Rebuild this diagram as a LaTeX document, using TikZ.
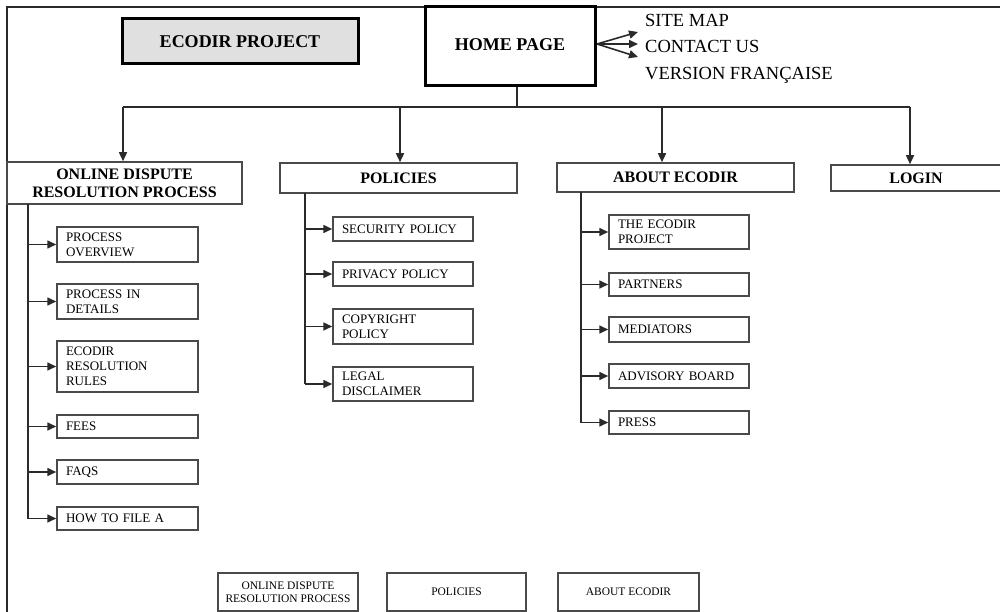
\documentclass[tikz,border=0pt]{standalone}
\usepackage{fontspec}
\setmainfont{Liberation Serif}
\usetikzlibrary{arrows.meta}
\definecolor{ln}{HTML}{2A2A2A}
\definecolor{bx}{HTML}{4A4A4A}
\definecolor{gfill}{HTML}{E0E0E0}
\begin{document}
\begin{tikzpicture}[x=1pt,y=-1pt,
  conn/.style={draw=ln,line width=1.6pt},
  arr/.style={conn,-{Triangle[length=9pt,width=8pt]}},
  bigbox/.style={draw=black,line width=3pt,align=center,inner sep=0pt,font=\fontsize{18}{20}\selectfont\bfseries},
  head/.style={draw=bx,line width=1.6pt,align=center,inner sep=0pt,font=\fontsize{16}{18}\selectfont\bfseries},
  sub/.style={draw=bx,line width=1.5pt,align=left,inner xsep=9pt,inner ysep=0pt,font=\fontsize{13}{15}\selectfont},
  bot/.style={draw=bx,line width=1.5pt,align=center,inner sep=0pt,font=\fontsize{11.5}{13.5}\selectfont},
  link/.style={anchor=base west,inner sep=0pt,font=\fontsize{18.5}{20}\selectfont}]
\useasboundingbox (0,0) rectangle (1000,612);
% frame
\draw[draw=ln,line width=2pt] (7,612) -- (7,7) -- (1000,7);
% top
\node[bigbox,fill=gfill,minimum width=236pt,minimum height=45pt] (eco) at (240,41.5) {ECODIR PROJECT};
\node[bigbox,fill=white,minimum width=170pt,minimum height=79pt] (home) at (510,46.5) {\raisebox{4pt}{HOME PAGE}};
\node[link] (sm) at (645,27) {SITE MAP};
\node[link] (cu) at (645,53) {CONTACT US};
\node[link] (vf) at (645,80) {VERSION FRANÇAISE};
\coordinate (hs) at (597,44);
\coordinate (t1) at (638,32);
\coordinate (t2) at (638,44);
\coordinate (t3) at (638,57);
\draw[arr] (hs) -- (t1);
\draw[arr] (hs) -- (t2);
\draw[arr] (hs) -- (t3);
% headers
\node[head,minimum width=235pt,minimum height=42pt] (odr) at (124.5,183) {ONLINE DISPUTE\\RESOLUTION PROCESS};
\node[head,minimum width=237pt,minimum height=30pt] (pol) at (398.5,178) {POLICIES};
\node[head,minimum width=237pt,minimum height=29pt] (abt) at (675.5,177.5) {ABOUT ECODIR};
\node[head,minimum width=170pt,minimum height=26pt] (login) at (916,178) {LOGIN};
% branches
\coordinate (hj) at (517,107);
\coordinate (b1) at (123,107);
\coordinate (b2) at (400,107);
\coordinate (b3) at (662,107);
\coordinate (b4) at (910,107);
\draw[conn] (home.south -| hj) -- (hj);
\draw[conn] (b1) -- (b4);
\draw[arr] (b1) -- (b1 |- odr.north);
\draw[arr] (b2) -- (b2 |- pol.north);
\draw[arr] (b3) -- (b3 |- abt.north);
\draw[arr] (b4) -- (b4 |- login.north);
% ODR sub
\node[sub,text width=123pt,minimum height=35pt] (po) at (127.5,244.5) {PROCESS\\OVERVIEW};
\node[sub,text width=123pt,minimum height=35pt] (pid) at (127.5,301.5) {PROCESS IN\\DETAILS};
\node[sub,text width=123pt,minimum height=51pt] (err) at (127.5,366.5) {ECODIR\\RESOLUTION\\RULES};
\node[sub,text width=123pt,minimum height=23pt] (fees) at (127.5,426.5) {FEES};
\node[sub,text width=123pt,minimum height=24pt] (faqs) at (127.5,472) {FAQS};
\node[sub,text width=123pt,minimum height=23pt] (how) at (127.5,518.5) {HOW TO FILE A};
\coordinate (ot) at (28,204);
\draw[conn] (ot) -- (ot |- how.west);
\foreach \n in {po,pid,err,fees,faqs,how} \draw[arr] (ot |- \n.west) -- (\n.west);
% Policies sub
\node[sub,text width=122pt,minimum height=24pt] (sec) at (403,229) {SECURITY POLICY};
\node[sub,text width=122pt,minimum height=24pt] (priv) at (403,274) {PRIVACY POLICY};
\node[sub,text width=122pt,minimum height=35pt] (copy) at (403,326.5) {COPYRIGHT\\POLICY};
\node[sub,text width=122pt,minimum height=34pt] (legal) at (403,384) {LEGAL\\DISCLAIMER};
\coordinate (pt) at (305,193);
\draw[conn] (pt) -- (pt |- legal.west);
\foreach \n in {sec,priv,copy,legal} \draw[arr] (pt |- \n.west) -- (\n.west);
% About sub
\node[sub,text width=122pt,minimum height=34pt] (tep) at (679,232) {THE ECODIR\\PROJECT};
\node[sub,text width=122pt,minimum height=23pt] (part) at (679,284.5) {PARTNERS};
\node[sub,text width=122pt,minimum height=25pt] (med) at (679,329.5) {MEDIATORS};
\node[sub,text width=122pt,minimum height=24pt] (adv) at (679,376) {ADVISORY BOARD};
\node[sub,text width=122pt,minimum height=23pt] (press) at (679,422.5) {PRESS};
\coordinate (at) at (581,192);
\draw[conn] (at) -- (at |- press.west);
\foreach \n in {tep,part,med,adv,press} \draw[arr] (at |- \n.west) -- (\n.west);
% bottom
\node[bot,minimum width=140pt,minimum height=38pt] (bo1) at (288,592) {ONLINE DISPUTE\\RESOLUTION PROCESS};
\node[bot,minimum width=139pt,minimum height=38pt] (bo2) at (456.5,592) {POLICIES};
\node[bot,minimum width=141pt,minimum height=38pt] (bo3) at (628.5,592) {ABOUT ECODIR};
\end{tikzpicture}
\end{document}
